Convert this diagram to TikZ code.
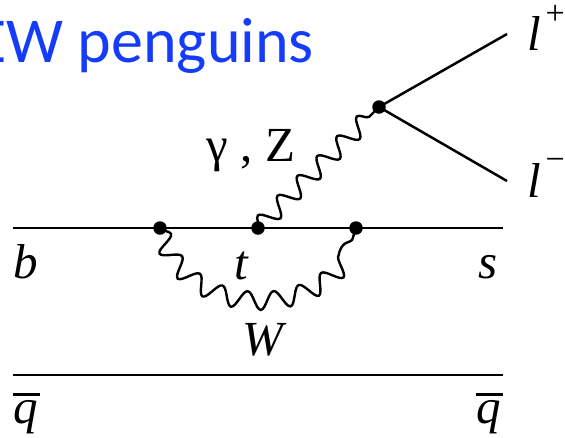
\documentclass[tikz,border=0pt]{standalone}
\usepackage{fontspec}
\setmainfont{Liberation Serif}
\newfontfamily\titlefont{Carlito}
\usetikzlibrary{decorations.pathmorphing}
\definecolor{titleblue}{RGB}{20,60,250}
\tikzset{
  fermion/.style={draw=black,line width=2.5pt},
  vertexdot/.style={circle,fill=black,inner sep=0pt,minimum size=13.5pt},
  boson/.style={draw=black,line width=2.4pt,decorate,decoration={snake,amplitude=9pt,segment length=28pt}},
  lab/.style={inner sep=0pt,font=\fontsize{49}{49}\selectfont\itshape,anchor=base},
  labup/.style={inner sep=0pt,font=\fontsize{49}{49}\selectfont,anchor=base},
  sgn/.style={inner sep=0pt,anchor=base west,font=\fontsize{34}{34}\selectfont}
}
\begin{document}
\begin{tikzpicture}[x=1pt,y=-1pt]
\useasboundingbox (0,0) rectangle (565,437);
\clip (0,0) rectangle (565,437);
\fill[white] (0,0) rectangle (565,437);
\node[anchor=base west,inner sep=0pt,text=titleblue,font=\titlefont\fontsize{64}{64}\selectfont] (title) at (-25,62) {EW penguins};
\coordinate (bL) at (13,228);
\coordinate (sR) at (503,228);
\coordinate (qL) at (13,375);
\coordinate (qR) at (503,375);
\coordinate (lp) at (507,34);
\coordinate (lm) at (507,181);
\node[vertexdot] (v1) at (160,228) {};
\node[vertexdot] (v2) at (258,228) {};
\node[vertexdot] (v3) at (356,228) {};
\node[vertexdot] (v4) at (379,107) {};
\draw[fermion] (bL) -- (v1.center) -- (v2.center) -- (v3.center) -- (sR);
\draw[fermion] (qL) -- (qR);
\draw[fermion] (v4.center) -- (lp);
\draw[fermion] (v4.center) -- (lm);
\draw[boson] (v2.center) -- (v4.center);
\draw[boson] (v1.center) .. controls (185,316) and (331,316) .. (v3.center);
\node[lab] (b) at (26,278) {b};
\node[lab] (t) at (241,279) {t};
\node[lab] (s) at (488,278) {s};
\node[lab] (W) at (263,355) {W};
\node[lab] (q1) at (26,423) {q};
\node[lab] (q2) at (489,423) {q};
\draw[line width=3pt] (13,394) -- (40,394);
\draw[line width=3pt] (476,394) -- (503,394);
\node[labup] (gz) at (251,161) {γ , Z};
\node[lab,anchor=base west] (lplus) at (527,50) {l};
\node[sgn] (plus) at (545.5,24) {+};
\node[lab,anchor=base west] (lminus) at (527,197) {l};
\node[sgn] (minus) at (545.5,170) {−};
\end{tikzpicture}
\end{document}
